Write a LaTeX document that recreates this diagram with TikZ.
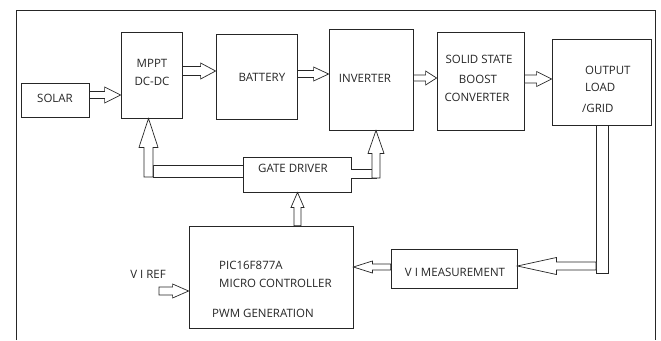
\documentclass[tikz,border=0pt]{standalone}
\usepackage{fontspec}
\setmainfont{Open Sans}
\usetikzlibrary{calc}
\tikzset{
  box/.style={draw=black!85, line width=0.8pt, fill=white, inner sep=0pt},
  blk/.style={draw=black!85, line width=0.7pt, fill=white, line join=miter},
  lbl/.style={font=\fontsize{11.5}{13}\selectfont, text=black!85, inner sep=0pt},
  frame/.style={draw=black!85, line width=0.8pt}
}
% right-pointing block arrow: from, to, y, shaft half, head half, head length
\newcommand\blkR[6]{%
 \draw[blk] ($(#1 |- 0,#3)+(0,-#4)$) -- ($(#2 |- 0,#3)+(-#6,-#4)$) -- ($(#2 |- 0,#3)+(-#6,-#5)$)
  -- (#2 |- 0,#3) -- ($(#2 |- 0,#3)+(-#6,#5)$) -- ($(#2 |- 0,#3)+(-#6,#4)$) -- ($(#1 |- 0,#3)+(0,#4)$) -- cycle;}
% left-pointing block arrow
\newcommand\blkL[6]{%
 \draw[blk] ($(#1 |- 0,#3)+(0,-#4)$) -- ($(#2 |- 0,#3)+(#6,-#4)$) -- ($(#2 |- 0,#3)+(#6,-#5)$)
  -- (#2 |- 0,#3) -- ($(#2 |- 0,#3)+(#6,#5)$) -- ($(#2 |- 0,#3)+(#6,#4)$) -- ($(#1 |- 0,#3)+(0,#4)$) -- cycle;}
% up-pointing block arrow: from, to, x, shaft half, head half, head length
\newcommand\blkU[6]{%
 \draw[blk] ($(#3,0 |- #1)+(-#4,0)$) -- ($(#3,0 |- #2)+(-#4,#6)$) -- ($(#3,0 |- #2)+(-#5,#6)$)
  -- (#3,0 |- #2) -- ($(#3,0 |- #2)+(#5,#6)$) -- ($(#3,0 |- #2)+(#4,#6)$) -- ($(#3,0 |- #1)+(#4,0)$) -- cycle;}
\begin{document}
\begin{tikzpicture}[x=1pt, y=-1pt]
\useasboundingbox (0,0) rectangle (661,340);
\fill[white] (0,0) rectangle (661,340);
% outer frame
\draw[frame] (16,340) -- (16,10) -- (655,10) -- (655,340);

% boxes
\node[box, minimum width=68pt, minimum height=34pt] (solar) at (55,100) {};
\node[box, minimum width=61pt, minimum height=86pt] (mppt) at (151.5,75) {};
\node[box, minimum width=81pt, minimum height=85pt] (battery) at (256.5,76.5) {};
\node[box, minimum width=84pt, minimum height=101pt] (inverter) at (371,79.5) {};
\node[box, minimum width=87pt, minimum height=98pt] (solid) at (480.5,81) {};
\node[box, minimum width=99pt, minimum height=86pt] (output) at (601.5,82) {};
\node[box, minimum width=108pt, minimum height=35pt] (gate) at (297,174.5) {};
\node[box, minimum width=164pt, minimum height=102pt] (pic) at (271,277) {};
\node[box, minimum width=126pt, minimum height=39pt] (vim) at (454,268.5) {};

% texts
\node[lbl] (tsolar) at (55,98) {SOLAR};
\node[lbl] (tmppt1) at (152,63) {MPPT};
\node[lbl] (tmppt2) at (152,81) {DC-DC};
\node[lbl] (tbat) at (262,77) {BATTERY};
\node[lbl] (tinv) at (365,78) {INVERTER};
\node[lbl] (tsol1) at (479,59) {SOLID STATE};
\node[lbl] (tsol2) at (478,79) {BOOST};
\node[lbl] (tsol3) at (477,97) {CONVERTER};
\node[lbl, anchor=west] (tout1) at (585,70) {OUTPUT};
\node[lbl, anchor=west] (tout2) at (585,87) {LOAD};
\node[lbl, anchor=west] (tout3) at (582,108) {/GRID};
\node[lbl] (tgate) at (293,168) {GATE DRIVER};
\node[lbl, anchor=west] (tpic1) at (219,265) {PIC16F877A};
\node[lbl, anchor=west] (tpic2) at (219,283) {MICRO CONTROLLER};
\node[lbl, anchor=west] (tpic3) at (212,313) {PWM GENERATION};
\node[lbl] (tvim) at (455,272) {V I MEASUREMENT};
\node[lbl] (tref) at (148,274) {V I REF};
\coordinate (refstart) at (159,291);

% top-row block arrows
\blkR{solar.east}{mppt.west}{95}{3.5}{8}{16}
\blkR{mppt.east}{battery.west}{71}{4.5}{8}{15}
\blkR{battery.east}{inverter.west}{74}{3.5}{7}{15}
\blkR{inverter.east}{solid.west}{78}{3}{7}{11}
\blkR{solid.east}{output.west}{79}{4}{7.5}{15}

% gate driver buses
\draw[blk] (gate.west |- 0,165) -- (153,165) -- (153,177) -- (gate.west |- 0,177);
\coordinate (lbus) at (148.5,177);
\blkU{lbus}{mppt.south}{148.5}{4.5}{9.5}{29}
\draw[blk] (gate.east |- 0,169) -- (376,169) -- (376,178) -- (gate.east |- 0,178);
\coordinate (rbus) at (376,178);
\blkU{rbus}{inverter.south}{376}{4}{8}{23}
\blkU{pic.north}{gate.south}{297.5}{3.5}{6.5}{15}

% feedback path
\draw[blk] (596,0 |- output.south) rectangle (608,273);
\coordinate (bar) at (596,266);
\blkL{bar}{vim.east}{266}{4}{8.5}{39}
\blkL{vim.west}{pic.east}{267}{3}{6}{19}
\blkR{refstart}{pic.west}{291}{4}{7}{16}
\end{tikzpicture}
\end{document}
